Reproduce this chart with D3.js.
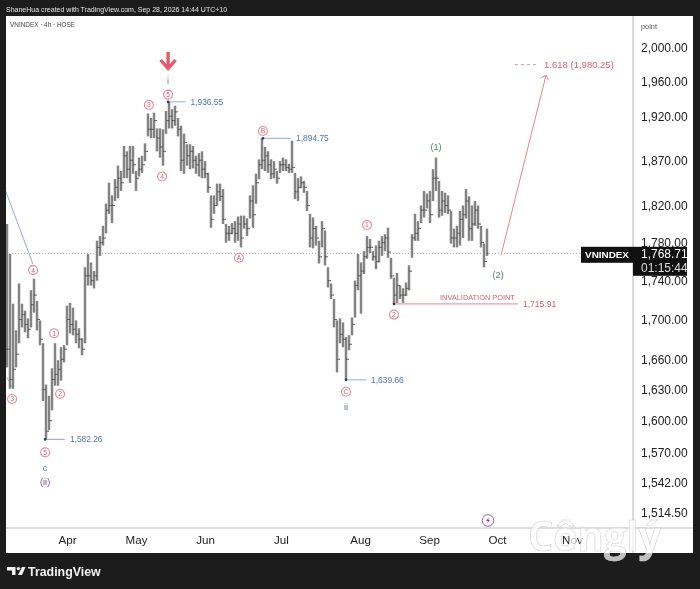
<!DOCTYPE html>
<html>
<head>
<meta charset="utf-8">
<title>VNINDEX 4h</title>
<script src="https://cdn.jsdelivr.net/npm/d3@7"></script>
<style>
	html, body { margin: 0; padding: 0; background: #1c1c1c; }
	svg { display: block; font-family: 'Liberation Sans', sans-serif; filter: blur( 0.3px ); }
	.axis text { fill: #222; }
	.axis .tick line { display: none; }
	.axis .domain { display: none; }
</style>
</head>
<body>
<div id="chart"></div>
<script>
// 4h bars, oldest first
var highs = [
	1800, 1768, 1716, 1689, 1737, 1716, 1709, 1701, 1730, 1742, 1719, 1699, 1676, 1635, 1624, 1651, 1676, 1659, 1672, 1674,
	1714, 1717, 1712, 1699, 1691, 1681, 1754, 1768, 1759, 1750, 1782, 1787, 1798, 1822, 1845, 1831, 1849, 1864, 1858, 1886,
	1880, 1886, 1886, 1858, 1873, 1875, 1889, 1923, 1918, 1924, 1906, 1906, 1905, 1926, 1936.55, 1928, 1932, 1918, 1909, 1900,
	1888, 1888, 1886, 1875, 1878, 1880, 1869, 1856, 1831, 1831, 1844, 1844, 1838, 1800, 1798, 1801, 1803, 1808, 1809, 1809,
	1806, 1831, 1842, 1855, 1871, 1894.75, 1885, 1880, 1871, 1869, 1858, 1869, 1873, 1871, 1866, 1892, 1856, 1850, 1852, 1847,
	1836, 1811, 1807, 1798, 1782, 1803, 1793, 1754, 1737, 1721, 1699, 1701, 1697, 1682, 1684, 1702, 1740, 1768, 1759, 1771,
	1787, 1784, 1771, 1777, 1782, 1787, 1789, 1796, 1764, 1743, 1748, 1735, 1732, 1738, 1756, 1789, 1811, 1803, 1820, 1836,
	1833, 1836, 1860, 1873, 1847, 1836, 1834, 1831, 1814, 1795, 1798, 1814, 1820, 1838, 1830, 1820, 1825, 1820, 1798, 1779, 1795
];

var lows = [
	1652, 1631, 1631, 1652, 1676, 1692, 1687, 1681, 1692, 1707, 1689, 1674, 1619, 1582.26, 1591, 1610, 1634, 1634, 1639, 1657,
	1674, 1686, 1684, 1676, 1671, 1664, 1676, 1735, 1735, 1732, 1740, 1766, 1777, 1790, 1811, 1801, 1825, 1828, 1836, 1850,
	1850, 1845, 1855, 1836, 1852, 1856, 1869, 1897, 1895, 1895, 1880, 1873, 1864, 1900, 1906, 1906, 1909, 1897, 1858, 1855,
	1864, 1860, 1861, 1855, 1852, 1850, 1850, 1834, 1796, 1811, 1820, 1825, 1800, 1780, 1782, 1789, 1780, 1782, 1775, 1795,
	1787, 1806, 1796, 1822, 1849, 1860, 1858, 1856, 1849, 1850, 1844, 1856, 1858, 1858, 1856, 1856, 1827, 1825, 1839, 1834,
	1814, 1775, 1774, 1777, 1758, 1775, 1756, 1733, 1721, 1692, 1647, 1676, 1672, 1639.66, 1669, 1684, 1702, 1730, 1706, 1747,
	1763, 1769, 1761, 1752, 1759, 1766, 1771, 1764, 1742, 1715.91, 1717, 1721, 1717, 1724, 1730, 1764, 1782, 1782, 1801, 1807,
	1817, 1801, 1825, 1836, 1807, 1809, 1812, 1811, 1779, 1775, 1775, 1777, 1785, 1806, 1782, 1782, 1798, 1795, 1775, 1754, 1766
];

var closes = [
	1670, 1640, 1650, 1665, 1700, 1705, 1695, 1690, 1715, 1725, 1700, 1680, 1630, 1590, 1600, 1640, 1645, 1650, 1660, 1670,
	1700, 1695, 1690, 1685, 1680, 1670, 1745, 1745, 1740, 1745, 1775, 1780, 1785, 1815, 1820, 1820, 1840, 1850, 1845, 1875,
	1860, 1870, 1865, 1850, 1860, 1865, 1880, 1905, 1905, 1915, 1895, 1885, 1880, 1915, 1920, 1915, 1925, 1905, 1870, 1890,
	1875, 1880, 1870, 1865, 1870, 1860, 1855, 1840, 1805, 1820, 1835, 1830, 1805, 1790, 1790, 1795, 1790, 1800, 1785, 1800,
	1795, 1825, 1810, 1845, 1865, 1870, 1875, 1865, 1855, 1860, 1850, 1865, 1865, 1862, 1860, 1862, 1835, 1840, 1845, 1840,
	1820, 1785, 1795, 1785, 1765, 1795, 1765, 1740, 1725, 1700, 1660, 1685, 1680, 1660, 1675, 1695, 1735, 1745, 1750, 1765,
	1775, 1775, 1765, 1760, 1775, 1780, 1785, 1770, 1745, 1725, 1735, 1725, 1725, 1732, 1750, 1785, 1790, 1795, 1815, 1815,
	1825, 1810, 1850, 1850, 1815, 1825, 1820, 1815, 1785, 1785, 1790, 1805, 1810, 1825, 1795, 1800, 1815, 1800, 1780, 1760, 1768.71
];

var priceTicks = [ 2000, 1960, 1920, 1870, 1820, 1780, 1740, 1700, 1660, 1630, 1600, 1570, 1542, 1514.5 ];

var monthNames = [ 'Apr', 'May', 'Jun', 'Jul', 'Aug', 'Sep', 'Oct', 'Nov' ];
var monthBars = [ 20, 43, 66, 91.3, 117.7, 140.7, 163.3, 188.3 ];

var lastPrice = 1768.71;
var countdown = '01:15:44';

// minor wave labels, circled on the chart
var circledLabels = [
	{ text: '3', bar: 47.3, price: 1933 },
	{ text: '5', bar: 53.7, price: 1945 },
	{ text: '4', bar: 51.7, price: 1852 },
	{ text: 'A', bar: 77.3, price: 1764 },
	{ text: 'B', bar: 85.3, price: 1903 },
	{ text: 'C', bar: 113, price: 1628 },
	{ text: '1', bar: 120, price: 1799 },
	{ text: '2', bar: 129, price: 1705 },
	{ text: '4', bar: 8.7, price: 1751 },
	{ text: '3', bar: 1.7, price: 1621 },
	{ text: '1', bar: 15.7, price: 1686 },
	{ text: '2', bar: 17.7, price: 1626 },
	{ text: '5', bar: 12.7, price: 1570 }
];

var plainLabels = [
	{ text: 'i', bar: 53.7, price: 1961, color: '#4f7ab5' },
	{ text: 'ii', bar: 113, price: 1613, color: '#4f7ab5' },
	{ text: 'c', bar: 12.7, price: 1555, color: '#4f7ab5' },
	{ text: '(ii)', bar: 12.7, price: 1542, color: '#7d4f91' },
	{ text: '(1)', bar: 143, price: 1885, color: '#4c8a5c' },
	{ text: '(2)', bar: 163.7, price: 1746, color: '#4c8a5c' }
];

var priceCallouts = [
	{ value: 1936.55, bar: 53.7, endBar: 59.5 },
	{ value: 1894.75, bar: 85.3, endBar: 94.7 },
	{ value: 1639.66, bar: 113, endBar: 119.7 },
	{ value: 1582.26, bar: 12.7, endBar: 19.3 }
];

var invalidation = { value: 1715.91, bar: 129, endBar: 170.3, label: 'INVALIDATION POINT' };
var target = { value: 1980.25, ratio: '1.618', bar: 169.3, endBar: 176.7, fromBar: 164.7, fromPrice: 1767, toBar: 179.7, toPrice: 1968 };
var waveLines = [
	[ [ -0.7, 1838 ], [ 8.7, 1757 ] ],
	[ [ 0, 1642 ], [ 2, 1631 ] ]
];

var sizes = {
	width: 700,
	height: 589,
	left: 6,
	top: 16,
	right: 693,
	bottom: 553,
	axisX: 633,
	axisY: 528
};

var scales = {};

scales.x = d3.scaleLinear()
	.domain( [ 0, highs.length - 1 ] )
	.range( [ 7, 487 ] );

scales.y = d3.scaleLog()
	.domain( [ 1514.5, 2000 ] )
	.range( [ 512.5, 48 ] );

var svg = d3.select( '#chart' ).append( 'svg' )
	.attr( 'width', sizes.width )
	.attr( 'height', sizes.height );

svg.append( 'rect' )
	.attr( 'width', sizes.width )
	.attr( 'height', sizes.height )
	.attr( 'fill', '#1c1c1c' );

svg.append( 'rect' )
	.attr( 'x', sizes.left )
	.attr( 'y', sizes.top )
	.attr( 'width', sizes.right - sizes.left )
	.attr( 'height', sizes.bottom - sizes.top )
	.attr( 'fill', '#fff' );

svg.append( 'defs' ).append( 'clipPath' )
	.attr( 'id', 'plot' )
	.append( 'rect' )
	.attr( 'x', sizes.left )
	.attr( 'y', sizes.top )
	.attr( 'width', sizes.axisX - sizes.left )
	.attr( 'height', sizes.axisY - sizes.top );

svg.append( 'text' )
	.attr( 'x', 6 )
	.attr( 'y', 11.5 )
	.attr( 'font-size', 7 )
	.attr( 'fill', '#e4e4e4' )
	.text( 'ShaneHua created with TradingView.com, Sep 28, 2026 14:44 UTC+10' );

svg.append( 'text' )
	.attr( 'x', 10 )
	.attr( 'y', 26.5 )
	.attr( 'font-size', 6.4 )
	.attr( 'fill', '#444' )
	.text( 'VNINDEX \u00b7 4h \u00b7 HOSE' );

// axis rules
svg.append( 'line' )
	.attr( 'x1', sizes.axisX ).attr( 'x2', sizes.axisX )
	.attr( 'y1', sizes.top ).attr( 'y2', sizes.bottom )
	.attr( 'stroke', '#b5b5b5' );

svg.append( 'line' )
	.attr( 'x1', sizes.left ).attr( 'x2', sizes.right )
	.attr( 'y1', sizes.axisY ).attr( 'y2', sizes.axisY )
	.attr( 'stroke', '#bdbdbd' );

var axes = {};

axes.y = d3.axisRight( scales.y )
	.tickValues( priceTicks )
	.tickSize( 0 )
	.tickPadding( 8 )
	.tickFormat( d3.format( ',.2f' ) );

axes.x = d3.axisBottom( scales.x )
	.tickValues( monthBars )
	.tickSize( 0 )
	.tickPadding( 8 )
	.tickFormat( function ( d, i ) { return monthNames[i]; } );

svg.append( 'g' )
	.classed( 'axis', true )
	.attr( 'transform', 'translate(' + sizes.axisX + ',0)' )
	.call( axes.y )
	.selectAll( 'text' )
	.attr( 'font-size', 12 );

svg.append( 'g' )
	.classed( 'axis', true )
	.attr( 'transform', 'translate(0,' + sizes.axisY + ')' )
	.call( axes.x )
	.selectAll( 'text' )
	.attr( 'font-size', 11.6 )
	.attr( 'font-weight', 500 );

svg.selectAll( '.axis text' ).attr( 'font-family', "'Liberation Sans', sans-serif" );

svg.append( 'text' )
	.attr( 'x', 641 )
	.attr( 'y', 28.5 )
	.attr( 'font-size', 7.4 )
	.attr( 'fill', '#555' )
	.text( 'point' );

var guts = svg.append( 'g' ).attr( 'clip-path', 'url(#plot)' );

// last price dotted line
guts.append( 'line' )
	.attr( 'x1', sizes.left ).attr( 'x2', sizes.axisX )
	.attr( 'y1', scales.y( lastPrice ) ).attr( 'y2', scales.y( lastPrice ) )
	.attr( 'stroke', '#8a8a8a' )
	.attr( 'stroke-width', 0.8 )
	.attr( 'stroke-dasharray', '1,2' );

guts.selectAll( 'path.wave' )
	.data( waveLines )
	.enter()
	.append( 'path' )
	.classed( 'wave', true )
	.attr( 'fill', 'none' )
	.attr( 'stroke', '#9aa6d6' )
	.attr( 'd', d3.line()
		.x( function ( d ) { return scales.x( d[0] ); } )
		.y( function ( d ) { return scales.y( d[1] ); } ) );

// grey under each bar, the overlapping bars read as a soft column in the original
guts.selectAll( 'line.bar-under' )
	.data( highs )
	.enter()
	.append( 'line' )
	.classed( 'bar-under', true )
	.attr( 'x1', function ( d, i ) { return scales.x( i ); } )
	.attr( 'x2', function ( d, i ) { return scales.x( i ); } )
	.attr( 'y1', function ( d ) { return scales.y( d ); } )
	.attr( 'y2', function ( d, i ) { return scales.y( lows[i] ); } )
	.attr( 'stroke', '#b4b4b4' )
	.attr( 'stroke-width', 2.8 );

// ohlc bars
guts.selectAll( 'path.bar' )
	.data( highs )
	.enter()
	.append( 'path' )
	.classed( 'bar', true )
	.attr( 'fill', 'none' )
	.attr( 'stroke', '#484848' )
	.attr( 'stroke-width', 0.9 )
	.attr( 'd', function ( d, i ) {
		var x = scales.x( i );
		var open = i > 0 ? closes[i - 1] : closes[i];
		return 'M' + x + ',' + scales.y( d ) + 'V' + scales.y( lows[i] ) +
			'M' + ( x - 1.5 ) + ',' + scales.y( open ) + 'H' + x +
			'M' + x + ',' + scales.y( closes[i] ) + 'H' + ( x + 1.5 );
	} );

// price callouts
var callouts = svg.selectAll( 'g.callout' )
	.data( priceCallouts )
	.enter()
	.append( 'g' )
	.classed( 'callout', true );

callouts.append( 'line' )
	.attr( 'x1', function ( d ) { return scales.x( d.bar ); } )
	.attr( 'x2', function ( d ) { return scales.x( d.endBar ); } )
	.attr( 'y1', function ( d ) { return scales.y( d.value ); } )
	.attr( 'y2', function ( d ) { return scales.y( d.value ); } )
	.attr( 'stroke', '#8fa8dc' );

callouts.append( 'circle' )
	.attr( 'cx', function ( d ) { return scales.x( d.bar ); } )
	.attr( 'cy', function ( d ) { return scales.y( d.value ); } )
	.attr( 'r', 1.3 )
	.attr( 'fill', '#26384f' );

callouts.append( 'text' )
	.attr( 'x', function ( d ) { return scales.x( d.endBar ) + 5; } )
	.attr( 'y', function ( d ) { return scales.y( d.value ) + 3; } )
	.attr( 'font-size', 8.4 )
	.attr( 'fill', '#4f74b5' )
	.text( function ( d ) { return d3.format( ',.2f' )( d.value ); } );

// invalidation level
svg.append( 'line' )
	.attr( 'x1', scales.x( invalidation.bar ) )
	.attr( 'x2', scales.x( invalidation.endBar ) )
	.attr( 'y1', scales.y( invalidation.value ) )
	.attr( 'y2', scales.y( invalidation.value ) )
	.attr( 'stroke', '#e8808e' );

svg.append( 'circle' )
	.attr( 'cx', scales.x( invalidation.bar ) )
	.attr( 'cy', scales.y( invalidation.value ) )
	.attr( 'r', 1.3 )
	.attr( 'fill', '#333' );

svg.append( 'text' )
	.attr( 'x', scales.x( invalidation.endBar ) - 3 )
	.attr( 'y', scales.y( invalidation.value ) - 4 )
	.attr( 'text-anchor', 'end' )
	.attr( 'font-size', 7.4 )
	.attr( 'fill', '#d8616f' )
	.text( invalidation.label );

svg.append( 'text' )
	.attr( 'x', scales.x( invalidation.endBar ) + 5 )
	.attr( 'y', scales.y( invalidation.value ) + 3 )
	.attr( 'font-size', 8.6 )
	.attr( 'fill', '#c9616e' )
	.text( d3.format( ',.2f' )( invalidation.value ) );

// 1.618 target
svg.append( 'line' )
	.attr( 'x1', scales.x( target.bar ) )
	.attr( 'x2', scales.x( target.endBar ) )
	.attr( 'y1', scales.y( target.value ) )
	.attr( 'y2', scales.y( target.value ) )
	.attr( 'stroke', '#e39aa3' )
	.attr( 'stroke-dasharray', '3,3' );

svg.append( 'text' )
	.attr( 'x', scales.x( target.endBar ) + 7 )
	.attr( 'y', scales.y( target.value ) + 3.3 )
	.attr( 'font-size', 9.5 )
	.attr( 'fill', '#d8616f' )
	.text( target.ratio + ' (' + d3.format( ',.2f' )( target.value ) + ')' );

var arrowX = scales.x( target.toBar );
var arrowY = scales.y( target.toPrice );

svg.append( 'line' )
	.attr( 'x1', scales.x( target.fromBar ) )
	.attr( 'y1', scales.y( target.fromPrice ) )
	.attr( 'x2', arrowX )
	.attr( 'y2', arrowY )
	.attr( 'stroke', '#e8808e' );

svg.append( 'path' )
	.attr( 'd', 'M' + ( arrowX - 5 ) + ',' + ( arrowY + 3 ) + 'L' + arrowX + ',' + arrowY + 'L' + ( arrowX + 2.5 ) + ',' + ( arrowY + 5.5 ) )
	.attr( 'fill', 'none' )
	.attr( 'stroke', '#e8808e' );

// wave labels
var circled = svg.selectAll( 'g.circled' )
	.data( circledLabels )
	.enter()
	.append( 'g' )
	.classed( 'circled', true )
	.attr( 'transform', function ( d ) {
		return 'translate(' + scales.x( d.bar ) + ',' + scales.y( d.price ) + ')';
	} );

circled.append( 'circle' )
	.attr( 'r', 4.5 )
	.attr( 'fill', '#fff' )
	.attr( 'stroke', '#e58f9a' )
	.attr( 'stroke-width', 1.1 );

circled.append( 'text' )
	.attr( 'text-anchor', 'middle' )
	.attr( 'y', 2.4 )
	.attr( 'font-size', 6.8 )
	.attr( 'fill', '#cf5f6e' )
	.text( function ( d ) { return d.text; } );

svg.selectAll( 'text.plain' )
	.data( plainLabels )
	.enter()
	.append( 'text' )
	.classed( 'plain', true )
	.attr( 'text-anchor', 'middle' )
	.attr( 'x', function ( d ) { return scales.x( d.bar ); } )
	.attr( 'y', function ( d ) { return scales.y( d.price ) + 3; } )
	.attr( 'font-size', 9.2 )
	.attr( 'fill', function ( d ) { return d.color; } )
	.text( function ( d ) { return d.text; } );

// big red arrow above wave i
var downX = scales.x( 53.7 );

svg.append( 'path' )
	.attr( 'd', 'M' + downX + ',52V68M' + ( downX - 7.5 ) + ',60L' + downX + ',68.5L' + ( downX + 7.5 ) + ',60' )
	.attr( 'fill', 'none' )
	.attr( 'stroke', '#e8596c' )
	.attr( 'stroke-width', 3.4 );

// lightning marker
var bolt = svg.append( 'g' ).attr( 'transform', 'translate(488,520.5)' );

bolt.append( 'circle' )
	.attr( 'r', 5.8 )
	.attr( 'fill', '#fff' )
	.attr( 'stroke', '#9a5fb0' );

bolt.append( 'path' )
	.attr( 'd', 'M1,-3.5L-2,0.5H0L-1,3.5L2,-0.7H0Z' )
	.attr( 'fill', '#7d4f91' );

// last price tags
svg.append( 'rect' )
	.attr( 'x', 581 ).attr( 'y', scales.y( lastPrice ) - 6.5 )
	.attr( 'width', 52 ).attr( 'height', 16 )
	.attr( 'fill', '#111' );

svg.append( 'text' )
	.attr( 'x', 607 ).attr( 'y', scales.y( lastPrice ) + 5.2 )
	.attr( 'text-anchor', 'middle' )
	.attr( 'font-size', 9.9 )
	.attr( 'font-weight', 'bold' )
	.attr( 'fill', '#fff' )
	.text( 'VNINDEX' );

svg.append( 'rect' )
	.attr( 'x', 633 ).attr( 'y', scales.y( lastPrice ) - 6.5 )
	.attr( 'width', 54 ).attr( 'height', 29 )
	.attr( 'fill', '#111' );

svg.append( 'text' )
	.attr( 'x', 641 ).attr( 'y', scales.y( lastPrice ) + 5 )
	.attr( 'font-size', 12 )
	.attr( 'fill', '#fff' )
	.text( d3.format( ',.2f' )( lastPrice ) );

svg.append( 'text' )
	.attr( 'x', 641 ).attr( 'y', scales.y( lastPrice ) + 18.5 )
	.attr( 'font-size', 12 )
	.attr( 'fill', '#ddd' )
	.text( countdown );

// TradingView mark
svg.append( 'path' )
	.attr( 'd', 'M7,567H15.5V575H12V570.5H7ZM22,567H25.5L22,575H18Z' )
	.attr( 'fill', '#f2f2f2' );

svg.append( 'circle' )
	.attr( 'cx', 18.4 ).attr( 'cy', 568.6 ).attr( 'r', 1.7 )
	.attr( 'fill', '#f2f2f2' );

svg.append( 'text' )
	.attr( 'x', 28 ).attr( 'y', 576 )
	.attr( 'font-size', 12.4 )
	.attr( 'font-weight', 'bold' )
	.attr( 'fill', '#f2f2f2' )
	.text( 'TradingView' );

// newspaper watermark
svg.append( 'text' )
	.attr( 'x', 528 ).attr( 'y', 551 )
	.attr( 'font-size', 42 )
	.attr( 'font-weight', 'bold' )
	.attr( 'font-family', "'Open Sans', sans-serif" )
	.attr( 'textLength', 133 )
	.attr( 'lengthAdjust', 'spacingAndGlyphs' )
	.attr( 'fill', '#fff' )
	.attr( 'fill-opacity', 0.72 )
	.attr( 'stroke', '#cfcfcf' )
	.attr( 'stroke-width', 0.6 )
	.text( 'C\u00f4ngl\u00fd' );
</script>
</body>
</html>
